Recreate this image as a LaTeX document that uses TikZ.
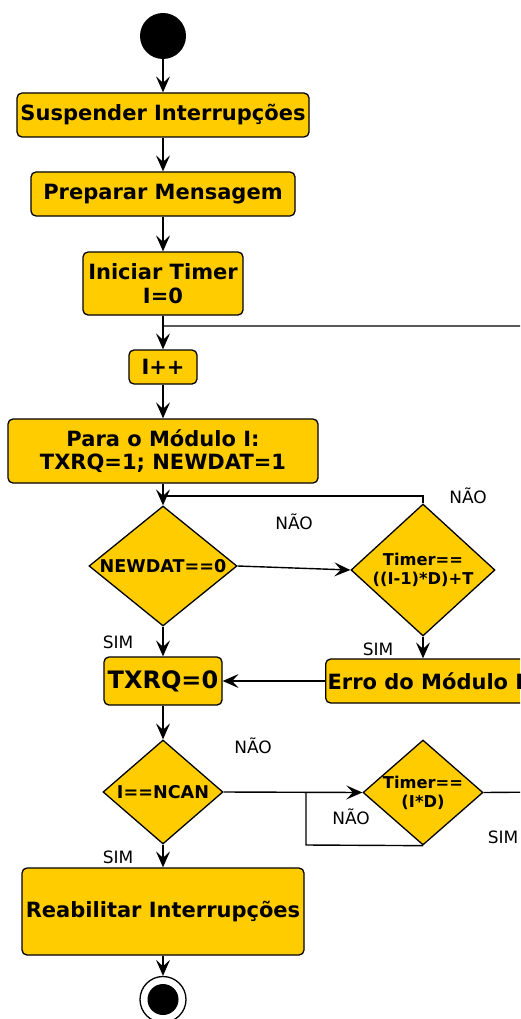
\documentclass[tikz,border=0pt]{standalone}
\usepackage{fontspec}
\setmainfont{DejaVu Sans}
\usetikzlibrary{arrows.meta,shapes.geometric}
\definecolor{actfill}{HTML}{FFCC00}

\tikzset{
  actbox/.style={draw=black, fill=actfill, line width=1.3pt, rounded corners=5pt,
    inner sep=0pt, align=center, font=\fontsize{21}{23.5}\selectfont\bfseries},
  decision/.style={draw=black, fill=actfill, line width=1.3pt, shape=diamond,
    inner sep=0pt},
  dtext/.style={align=center, inner sep=0pt, font=\fontsize{16.3}{19}\selectfont\bfseries},
  flow/.style={draw=black, line width=1.4pt, -{Stealth[length=16pt, width=14pt, inset=6.5pt]}},
  plain/.style={draw=black, line width=1.4pt},
  lbl/.style={anchor=base, inner sep=0pt, font=\fontsize{17}{20}\selectfont},
}

\begin{document}
\begin{tikzpicture}[x=1pt, y=-1pt]
\useasboundingbox (0,0) rectangle (520,1019);
\clip (0,0) rectangle (520,1019);

% start and activities
\node[circle, fill=black, minimum size=46pt, inner sep=0pt] (start) at (163,36) {};
\node[actbox, minimum width=292pt, minimum height=44pt] (susp) at (163,115) {Suspender Interrupções};
\node[actbox, minimum width=264pt, minimum height=44pt] (prep) at (163,194) {Preparar Mensagem};
\node[actbox, minimum width=160pt, minimum height=63pt] (init) at (163,283.5) {Iniciar Timer\\I=0};
\node[actbox, minimum width=68pt, minimum height=34pt] (inc) at (163,367) {I++};
\node[actbox, minimum width=310pt, minimum height=64pt] (para) at (163,451) {Para o Módulo I:\\TXRQ=1; NEWDAT=1};

% first wait loop
\node[decision, minimum width=148pt, minimum height=120pt] (newdat) at (163,566) {};
\node[dtext, font=\fontsize{17.6}{19}\selectfont\bfseries] (newdatt) at (newdat) {NEWDAT==0};
\node[decision, minimum width=144pt, minimum height=132pt] (tmo) at (423,570) {};
\node[dtext] (tmot) at (tmo) {Timer==\\((I-1)*D)+T};

\node[actbox, minimum width=118pt, minimum height=48pt, font=\fontsize{24}{28}\selectfont\bfseries] (txrq) at (163,681) {TXRQ=0};
\node[actbox, anchor=west, inner xsep=2pt, minimum height=44pt] (erro) at (325,681) {Erro do Módulo I};

% second wait loop
\node[decision, minimum width=120pt, minimum height=104pt] (ncan) at (163,792) {};
\node[dtext, font=\fontsize{17.6}{19}\selectfont\bfseries] (ncant) at (ncan) {I==NCAN};
\node[decision, minimum width=120pt, minimum height=105pt] (tid) at (423,792.5) {};
\node[dtext] (tidt) at (tid) {Timer==\\(I*D)};

\node[actbox, minimum width=282pt, minimum height=87pt] (reab) at (163,911.5) {Reabilitar Interrupções};

% final state
\node[circle, draw=black, fill=white, line width=1.3pt, minimum size=46pt, inner sep=0pt] (end) at (163,999.5) {};
\fill[black] (end.center) circle (15.5pt);

% routing points
\coordinate (joinTop) at (163,326);
\coordinate (joinMid) at (163,496);
\coordinate (loopL) at (306,845);
\coordinate (loopR) at (545,792);

% connectors
\draw[flow] (start) -- (susp);
\draw[flow] (susp) -- (prep);
\draw[flow] (prep) -- (init);
\draw[flow] (init) -- (inc);
\draw[flow] (inc) -- (para);
\draw[flow] (para) -- (newdat);
\draw[plain] (tmo.north) |- (joinMid);
\draw[flow] (newdat.east) -- (tmo.west);
\draw[flow] (newdat) -- (txrq);
\draw[flow] (tmo.south) -- (tmo.south |- erro.north);
\draw[flow] (erro.west) -- (txrq.east);
\draw[flow] (txrq) -- (ncan);
\draw[flow] (ncan.east) -- (tid.west);
\draw[plain] (tid.south) -- (loopL) -- (loopL |- tid.west);
\draw[plain] (tid.east) -- (loopR) |- (joinTop);
\draw[flow] (ncan) -- (reab);
\draw[flow] (reab) -- (end);

% guard labels
\node[lbl] at (294,529) {NÃO};
\node[lbl] at (468,503) {NÃO};
\node[lbl] at (118,648) {SIM};
\node[lbl] at (378,655) {SIM};
\node[lbl] at (253,753) {NÃO};
\node[lbl] at (351,824) {NÃO};
\node[lbl] at (503,843) {SIM};
\node[lbl] at (118,863) {SIM};
\end{tikzpicture}
\end{document}
